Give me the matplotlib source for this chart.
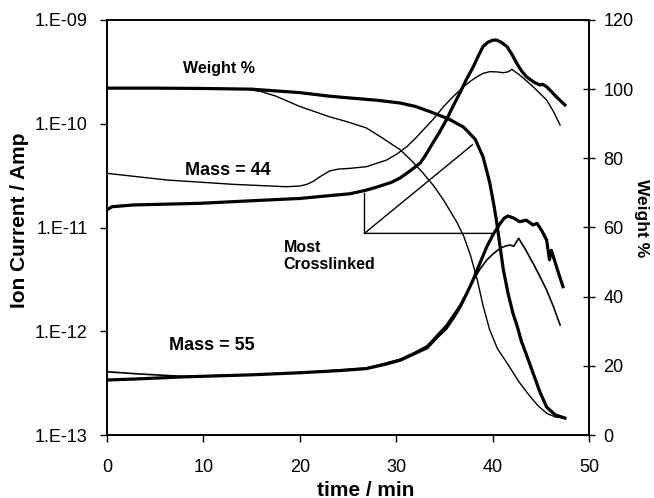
import numpy as np
import matplotlib
matplotlib.use('Agg')
import matplotlib.pyplot as plt
from matplotlib.ticker import FixedLocator, FuncFormatter, NullLocator

plt.rcParams['font.family'] = ['Liberation Sans', 'DejaVu Sans']

# weight % (right axis)
wt_thick_t = [0, 5, 10, 15, 20, 23, 25, 28, 30.4, 32, 33.5, 35.5, 37, 38.2, 39.0, 39.7, 40.1, 40.4,
              40.8, 41.1, 41.6, 42.1, 42.6, 43.0, 43.6, 44.2, 44.9, 45.6, 46.5, 47.5]
wt_thick = [100.3, 100.3, 100.2, 100.0, 99.0, 98.0, 97.5, 96.8, 96.0, 95.0, 93.5, 91.3, 89.0, 85.5, 80.5,
            73.0, 67.0, 62.0, 54.0, 48.0, 41.0, 35.3, 31.0, 27.0, 22.5, 17.9, 12.5, 8.1, 5.8, 4.9]
wt_thin_t = [0, 10, 14.5, 16, 17.5, 20, 23.1, 25, 26.9, 28.5, 30.4, 31.6, 32.8, 33.9, 34.9, 36.3, 37.0,
             37.7, 38.4, 39.0, 39.7, 40.5, 41.5, 42.7, 43.9, 44.7, 45.6, 46.5, 47.5]
wt_thin = [100.3, 100.2, 100.0, 99.3, 98.0, 95.0, 92.0, 90.5, 88.8, 86.0, 82.5, 79.3, 75.7, 72.0, 68.0,
           61.5, 57.5, 52.0, 45.0, 37.5, 30.4, 25.0, 20.8, 15.5, 11.1, 8.5, 6.3, 5.2, 4.9]

# ion current, log10(A) (left axis)
m44_thick_t = [0, 0.5, 2.7, 9.6, 16.6, 20, 23.4, 25.2, 26.9, 28, 29.5, 30.4, 31.5, 32.5, 33.0, 33.8,
               34.5, 35.2, 35.9, 36.6, 37.3, 38.0, 38.5, 39.0, 39.5, 40.0, 40.4, 40.9, 41.5, 42.0,
               42.5, 43.0, 43.5, 44.3, 44.9, 45.2, 45.6, 46.1, 46.6, 47.5]
m44_thick = [-10.83, -10.80, -10.783, -10.767, -10.735, -10.72, -10.69, -10.675, -10.64, -10.61, -10.565,
             -10.523, -10.45, -10.378, -10.31, -10.186, -10.08, -9.964, -9.83, -9.704, -9.57, -9.45, -9.35,
             -9.257, -9.215, -9.195, -9.193, -9.215, -9.257, -9.33, -9.417, -9.49, -9.546, -9.60, -9.627,
             -9.62, -9.643, -9.69, -9.739, -9.819]
m44_thin_t = [0, 6.2, 13.1, 18.6, 20.0, 20.7, 21.4, 22.1, 23.1, 24.0, 25.2, 26.9, 29, 30.1, 31.1, 32.0,
              32.8, 33.9, 34.9, 36.0, 37, 37.7, 38.4, 39.0, 39.7, 40.4, 41.1, 41.6, 42, 42.8, 43.5, 44.2,
              45.6, 46.3, 47.0]
m44_thin = [-10.478, -10.542, -10.584, -10.607, -10.60, -10.585, -10.555, -10.51, -10.455, -10.437, -10.43,
            -10.414, -10.35, -10.29, -10.221, -10.14, -10.06, -9.95, -9.836, -9.73, -9.643, -9.59, -9.546,
            -9.515, -9.498, -9.50, -9.508, -9.50, -9.476, -9.53, -9.585, -9.643, -9.771, -9.88, -10.012]
m55_thick_t = [0, 3, 7.9, 15, 20, 24, 26.9, 28.8, 30.4, 31.8, 33.2, 34.2, 35.2, 36.0, 36.6, 37.3, 38.0,
               38.7, 39.4, 40.1, 40.8, 41.2, 41.6, 42.2, 42.8, 43.5, 44.2, 44.6, 45.1, 45.6, 45.9, 46.1,
               46.7, 47.3]
m55_thick = [-12.47, -12.46, -12.44, -12.42, -12.40, -12.38, -12.36, -12.32, -12.28, -12.22, -12.16,
             -12.06, -11.97, -11.86, -11.77, -11.64, -11.50, -11.34, -11.185, -11.06, -10.96, -10.91, -10.889,
             -10.91, -10.944, -10.93, -10.976, -10.96, -11.03, -11.12, -11.31, -11.22, -11.40, -11.57]
m55_thin_t = [0, 3, 7.9, 15, 20, 24, 26.9, 28.8, 30.4, 31.8, 33.2, 34.2, 35.2, 36.0, 36.6, 37.3, 38.0,
              38.7, 39.4, 40.1, 40.8, 41.3, 41.8, 42.2, 42.7, 43.4, 44.2, 44.9, 45.6, 46.3, 47.0]
m55_thin = [-12.39, -12.41, -12.435, -12.42, -12.40, -12.375, -12.355, -12.31, -12.27, -12.21, -12.14,
            -12.04, -11.94, -11.83, -11.75, -11.63, -11.51, -11.40, -11.313, -11.25, -11.2, -11.18, -11.169,
            -11.18, -11.104, -11.21, -11.345, -11.47, -11.602, -11.76, -11.94]

# "Most Crosslinked" pointer lines, in (time, weight %) units
pointer_t = [37.9, 26.7, 39.9]
pointer_w = [83.9, 58.3, 58.3]
stem_t = [26.7, 26.7]
stem_w = [70.1, 58.3]

fig = plt.figure(figsize=(6.54, 4.98), dpi=100)
ax = fig.add_axes([107 / 654, 63 / 498, 482 / 654, 415 / 498])
ax2 = ax.twinx()

ax.plot(m44_thick_t, 10 ** np.array(m44_thick), color='black', lw=2.3)
ax.plot(m44_thin_t, 10 ** np.array(m44_thin), color='black', lw=1.0)
ax.plot(m55_thick_t, 10 ** np.array(m55_thick), color='black', lw=2.3)
ax.plot(m55_thin_t, 10 ** np.array(m55_thin), color='black', lw=1.2)
ax2.plot(wt_thick_t, wt_thick, color='black', lw=2.3)
ax2.plot(wt_thin_t, wt_thin, color='black', lw=1.0)
ax2.plot(pointer_t, pointer_w, color='black', lw=1.0)
ax2.plot(stem_t, stem_w, color='black', lw=1.0)

ax.set_yscale('log')
ax.set_xlim(0, 50)
ax.set_ylim(1e-13, 1e-9)
ax2.set_ylim(0, 120)
ax.set_xticks([0, 10, 20, 30, 40, 50])
ax.yaxis.set_major_locator(FixedLocator([1e-13, 1e-12, 1e-11, 1e-10, 1e-9]))
ax.yaxis.set_minor_locator(NullLocator())
ax.yaxis.set_major_formatter(FuncFormatter(lambda v, p: f"1.E{int(round(np.log10(v))):03d}"))
ax2.set_yticks([0, 20, 40, 60, 80, 100, 120])

ax.tick_params(axis='both', direction='out', length=5, width=1, labelsize=13, pad=9)
ax.tick_params(axis='x', pad=12)
ax2.tick_params(axis='y', direction='inout', length=9, width=1, labelsize=13, pad=6)
for a in (ax, ax2):
    for s in a.spines.values():
        s.set_linewidth(1.2)

ax.text(11.6, 3.44e-10, 'Weight %', ha='center', va='center', fontsize=11.5, fontweight='bold')
ax.text(12.5, 3.58e-11, 'Mass = 44', ha='center', va='center', fontsize=13, fontweight='bold')
ax.text(10.84, 7.36e-13, 'Mass = 55', ha='center', va='center', fontsize=13, fontweight='bold')
ax.text(18.3, 10 ** -11.275, 'Most\nCrosslinked', ha='left', va='center', fontsize=11.5,
        fontweight='bold', linespacing=1.2)

fig.text(20 / 654, 1 - 220 / 498, 'Ion Current / Amp', rotation=90, ha='center', va='center',
         fontsize=15, fontweight='bold')
fig.text(642 / 654, 1 - 218 / 498, 'Weight %', rotation=-90, ha='center', va='center',
         fontsize=12.5, fontweight='bold')
fig.text(365.5 / 654, 1 - 490 / 498, 'time / min', ha='center', va='center',
         fontsize=15, fontweight='bold')

fig.savefig('out.png', dpi=100)
